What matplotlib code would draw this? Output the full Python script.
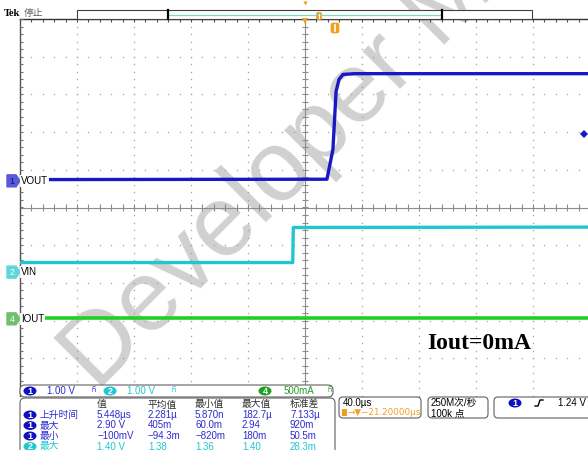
import numpy as np
import matplotlib.pyplot as plt
from matplotlib.patches import Polygon, FancyBboxPatch, Ellipse, Rectangle

plt.rcParams['font.family'] = ['Liberation Sans', 'Noto Sans CJK SC', 'DejaVu Sans']

# --- scope settings ---
time_per_div = 40.0      # µs/div
ch1_scale = 1.00         # V/div
ch2_scale = 1.00         # V/div
ch4_scale = 0.500        # A/div
ch1_pos = 0.72           # divs above centre
ch2_pos = -1.70
ch4_pos = -2.94
trig_level = 1.24        # V on ch1

# --- traces ---
vout_t = [-200, 15.4, 19.6, 21.8, 23.9, 26.7, 35, 200]      # µs
vout_v = [0.02, 0.03, 0.82, 2.36, 2.68, 2.81, 2.83, 2.83]   # V
vin_t = [-200, -8.6, -8.2, 200]
vin_v = [0.24, 0.24, 1.17, 1.18]
iout_t = [-200, 200]
iout_a = [0.0, 0.0]

# --- measurement table ---
meas_cols = ['值', '平均值', '最小值', '最大值', '标准差']
meas_ch = ['1', '1', '1', '2']
meas_names = ['上升时间', '最大', '最小', '最大']
meas_vals = [
    ['5.448µs', '2.281µ', '5.870n', '182.7µ', '7.133µ'],
    ['2.90 V', '405m', '60.0m', '2.94', '920m'],
    ['−100mV', '−94.3m', '−820m', '180m', '50.5m'],
    ['1.40 V', '1.38', '1.36', '1.40', '28.3m'],
]

C1 = '#1818c4'
C1L = '#2c2cd0'
C2 = '#22c6d0'
C4 = '#22d022'
C4T = '#2a9a2a'
ORANGE = '#f0a020'

W, H = 588, 450
fig = plt.figure(figsize=(W / 100, H / 100), dpi=100)

# graticule axes: 10 x 10 divisions
ax = fig.add_axes([20 / W, 1 - 396 / H, 570 / W, 377 / H])
ax.set_xlim(-5, 5)
ax.set_ylim(-5, 5)
ax.axis('off')

# overlay in pixel coordinates (status boxes, labels)
ov = fig.add_axes([0, 0, 1, 1])
ov.set_xlim(0, W)
ov.set_ylim(H, 0)
ov.axis('off')
ov.patch.set_alpha(0)

minor = np.arange(-5, 5.001, 0.2)
for g in range(-4, 5):
    if g == 0:
        continue
    ax.plot(np.full_like(minor, g), minor, ls='none', marker='s', ms=0.9, mew=0, color='#a0a0a0')
    ax.plot(minor, np.full_like(minor, g), ls='none', marker='s', ms=0.9, mew=0, color='#a0a0a0')
ax.axhline(0, color='#8c8c8c', lw=0.8)
ax.axvline(0, color='#8c8c8c', lw=0.8)
ax.vlines(minor, -0.08, 0.08, color='#8c8c8c', lw=0.8)
ax.hlines(minor, -0.05, 0.05, color='#8c8c8c', lw=0.8)
ax.plot([-5, 5], [5, 5], color='#303030', lw=1.0, clip_on=False)
ax.plot([-5, -5], [-5, 5], color='#505050', lw=1.0, clip_on=False)
ax.vlines(minor, 4.92, 5, color='#505050', lw=0.8)
ax.hlines(minor, -5, -4.95, color='#707070', lw=0.8)

# watermark (under the traces, under the status boxes)
ax.text(97, 392, 'Developer Mi', fontsize=72, color='#c8c8c8', alpha=0.85,
        rotation=45, rotation_mode='anchor', ha='left', va='baseline',
        family=['Liberation Sans'], transform=ov.transData, clip_on=False, zorder=1.5)

# traces
tx = lambda t: np.asarray(t) / time_per_div
ax.plot(tx(iout_t), ch4_pos + np.asarray(iout_a) / ch4_scale, color=C4, lw=2.6,
        solid_capstyle='butt', zorder=3)
ax.plot(tx(vin_t), ch2_pos + np.asarray(vin_v) / ch2_scale, color=C2, lw=2.4,
        solid_capstyle='butt', zorder=3)
ax.plot(tx(vout_t), ch1_pos + np.asarray(vout_v) / ch1_scale, color=C1, lw=2.4,
        solid_capstyle='butt', zorder=3)

# trigger level marker on the right
ov.plot([584], [208 - (ch1_pos + trig_level / ch1_scale) * 37.7], marker='D', ms=4, color=C1, mew=0)

# channel tags on the left
def tag(y, fc, num, label, tc):
    ov.add_patch(Polygon([(7, y - 6), (16, y - 6), (20, y), (16, y + 6), (7, y + 6)],
                         closed=True, fc=fc, ec=fc))
    ov.text(12, y + 0.5, num, color=tc, fontsize=6.5, ha='center', va='center')
    ov.text(21, y, label, color='black', fontsize=7, va='center', ha='left',
            bbox=dict(fc='white', ec='none', pad=0.5))

tag(208 - ch1_pos * 37.7, '#5858d8', '1', 'VOUT', '#101080')
tag(208 - ch2_pos * 37.7, '#60d6dc', '2', 'VIN', 'white')
tag(208 - ch4_pos * 37.7, '#70c070', '4', 'IOUT', 'white')

# top status bar
ov.text(4, 13, 'Tek', fontsize=7.5, fontweight='bold', va='center', family=['Liberation Serif'])
ov.text(24, 13, '停止', fontsize=7, va='center', color='#606060',
        family=['Noto Sans CJK SC', 'DejaVu Sans'])
ov.add_patch(Rectangle((77, 10), 455, 9, fc='white', ec='#404040', lw=0.8))
ov.plot([169, 441], [14.5, 14.5], color='#7fd6c8', lw=0.9)
ov.plot([168, 168], [10, 19], color='black', lw=1.6)
ov.plot([442, 442], [10, 19], color='black', lw=1.6)
ov.plot([305], [3], marker='v', ms=3, color=ORANGE, mew=0)
ov.plot([305], [21], marker='v', ms=4, color=ORANGE, mew=0)
ov.add_patch(FancyBboxPatch((316.5, 12.5), 5, 7, boxstyle='round,pad=0,rounding_size=1.2',
                            fc=ORANGE, ec=ORANGE, lw=0.5))
ov.plot([319, 319], [13.5, 18], color='white', lw=0.8)
ov.add_patch(FancyBboxPatch((331, 23), 8, 10, boxstyle='round,pad=0,rounding_size=2',
                            fc=ORANGE, ec=ORANGE, lw=0.5))
ov.plot([335, 335], [24.5, 31], color='white', lw=1.2)

# Iout annotation
ov.text(427, 349, 'Iout=0mA', fontsize=17, fontweight='bold', family=['Liberation Serif'],
        ha='left', va='baseline', color='black')

# channel scale row
ov.add_patch(FancyBboxPatch((20, 385), 313, 12, boxstyle='round,pad=0,rounding_size=5',
                            fc='white', ec='#606060', lw=0.8))

def badge(x, y, num, fc, w=13, h=9):
    ov.add_patch(Ellipse((x, y), w, h, fc=fc, ec='none'))
    ov.text(x, y + 0.3, num, color='white', fontsize=6.5, fontweight='bold', ha='center', va='center')

badge(30, 391, '1', '#1010c0')
ov.text(47, 391, '1.00 V', color=C1L, fontsize=7, va='center')
ov.text(91, 390, 'Ⴌ', color=C1L, fontsize=5, va='center', family=['DejaVu Sans'])
badge(110, 391, '2', C2)
ov.text(127, 391, '1.00 V', color=C2, fontsize=7, va='center')
ov.text(171, 390, 'Ⴌ', color=C2, fontsize=5, va='center', family=['DejaVu Sans'])
badge(265, 391, '4', '#20a020')
ov.text(284, 391, '500mA', color=C4T, fontsize=7, va='center')
ov.text(328, 390, 'Ⴌ', color=C4T, fontsize=5, va='center', family=['DejaVu Sans'])

# measurement table
ov.add_patch(FancyBboxPatch((20, 398), 315, 70, boxstyle='round,pad=0,rounding_size=5',
                            fc='white', ec='#606060', lw=0.8))
col_x = [97, 148, 195, 242, 290]
row_y = [415, 425.5, 436, 446.5]
for x, name in zip(col_x, meas_cols):
    ov.text(x, 404.5, name, fontsize=7, color='#303030', va='center')
for y, ch, name, vals in zip(row_y, meas_ch, meas_names, meas_vals):
    col = C1L if ch == '1' else C2
    badge(30, y, ch, '#1010c0' if ch == '1' else C2)
    ov.text(40, y, name, fontsize=7, color=col, va='center')
    for x, v in zip(col_x, vals):
        ov.text(x, y, v, fontsize=7, color=col, va='center')

# horizontal / acquisition / trigger boxes
hbox = FancyBboxPatch((339, 397), 82, 21, boxstyle='round,pad=0,rounding_size=4',
                      fc='white', ec='#606060', lw=0.8)
ov.add_patch(hbox)
ov.text(343, 403, '40.0µs', fontsize=7, va='center')
ov.add_patch(Rectangle((341.5, 409), 5, 7, fc=ORANGE, ec='none'))
ov.text(347, 412.5, '→▼−21.20000µs', fontsize=6.3, va='center', color=ORANGE,
        family=['DejaVu Sans'])
ov.add_patch(FancyBboxPatch((428, 397), 60, 21, boxstyle='round,pad=0,rounding_size=4',
                            fc='white', ec='#606060', lw=0.8))
ov.text(431, 403, '250M次/秒', fontsize=7, va='center')
ov.text(431, 413, '100k 点', fontsize=7, va='center')
ov.add_patch(FancyBboxPatch((494, 397), 100, 21, boxstyle='round,pad=0,rounding_size=4',
                            fc='white', ec='#606060', lw=0.8))
badge(515, 403, '1', '#1010c0')
ov.plot([535, 538, 540, 543], [406, 406, 400, 400], color='black', lw=1.0)
ov.text(558, 403, '1.24 V', fontsize=7, va='center')

fig.savefig('out.png', dpi=100, facecolor='white')
